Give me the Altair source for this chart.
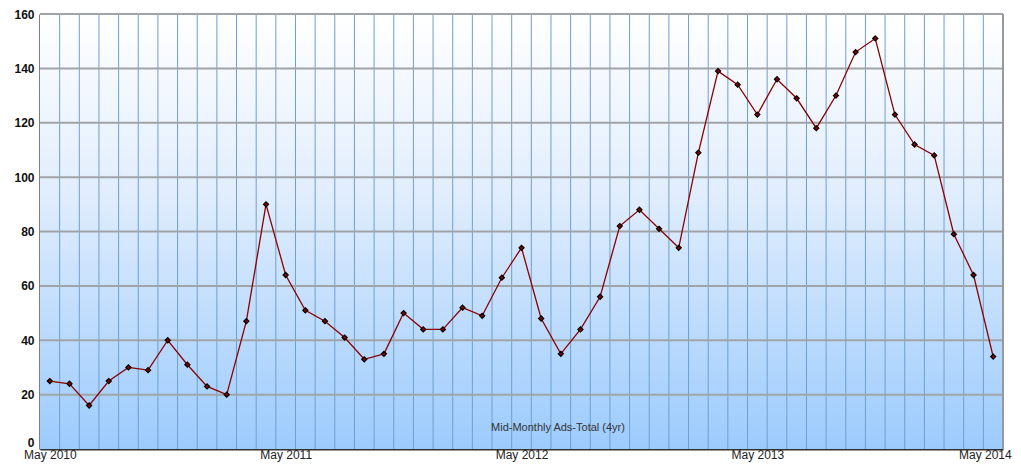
import altair as alt
import pandas as pd

# Monthly values, May 2010 .. May 2014
values = [25, 24, 16, 25, 30, 29, 40, 31, 23, 20, 47, 90, 64, 51, 47, 41,
          33, 35, 50, 44, 44, 52, 49, 63, 74, 48, 35, 44, 56, 82, 88, 81, 74,
          109, 139, 134, 123, 136, 129, 118, 130, 146, 151, 123, 112, 108, 79, 64, 34]
tick_labels = ["May 2010", "May 2011", "May 2012", "May 2013", "May 2014"]
tick_months = [0, 12, 24, 36, 48]
y_ticks = [20, 40, 60, 80, 100, 120, 140, 160]
annotation = "Mid-Monthly Ads-Total (4yr)"

n = len(values)
df = pd.DataFrame({"m": list(range(n)), "v": values})
vgrid = pd.DataFrame({"g": [i + 0.5 for i in range(n - 1)]})
hgrid = pd.DataFrame({"h": y_ticks})
bg = pd.DataFrame({"x0": [-0.5], "x1": [n - 0.5], "y0": [0], "y1": [160]})

xscale = alt.Scale(domain=[-0.5, n - 0.5], nice=False, zero=False)
yscale = alt.Scale(domain=[0, 160], nice=False)

label_arr = "[" + ",".join("'%s'" % t for t in tick_labels) + "]"
xaxis = alt.Axis(values=tick_months, labelExpr=label_arr + "[datum.value/12]",
                 grid=False, ticks=False, title=None, labelFont="Liberation Sans",
                 labelFontSize=12, labelColor="#222", labelPadding=0,
                 labelAlign={"expr": "datum.value == %d ? 'right' : 'center'" % tick_months[-1]},
                 labelOffset={"expr": "datum.value == %d ? 18 : 0" % tick_months[-1]},
                 domainColor="#333", domainWidth=2)
yaxis = alt.Axis(values=[0] + y_ticks, grid=False, ticks=False, title=None,
                 labelFont="Liberation Sans", labelFontSize=12, labelFontWeight="bold",
                 labelColor="#111", labelPadding=6, domainColor="#000", domainWidth=2,
                 labelBaseline={"expr": "datum.value == 0 ? 'bottom' : 'middle'"})

background = alt.Chart(bg).mark_rect(
    fill=alt.Gradient(gradient="linear",
                      stops=[alt.GradientStop(color="#ffffff", offset=0),
                             alt.GradientStop(color="#e2eefd", offset=0.4),
                             alt.GradientStop(color="#9ccbfd", offset=1)],
                      x1=0, x2=0, y1=0, y2=1)
).encode(
    x=alt.X("x0:Q", scale=xscale, axis=xaxis), x2="x1:Q",
    y=alt.Y("y0:Q", scale=yscale, axis=yaxis), y2="y1:Q"
)

vlines = alt.Chart(vgrid).mark_rule(color="#6f9fce", strokeWidth=1).encode(
    x=alt.X("g:Q", scale=xscale)
)
vborder = alt.Chart(pd.DataFrame({"g": [n - 0.5]})).mark_rule(color="#999", strokeWidth=2).encode(
    x=alt.X("g:Q", scale=xscale)
)
hlines = alt.Chart(hgrid).mark_rule(color="#a0a4a8", strokeWidth=2).encode(
    y=alt.Y("h:Q", scale=yscale)
)

line = alt.Chart(df).mark_line(color="#8b0000", strokeWidth=1.3).encode(
    x=alt.X("m:Q", scale=xscale), y=alt.Y("v:Q", scale=yscale)
)
points = alt.Chart(df).mark_point(shape="diamond", filled=True, fill="#8b0000",
                                  stroke="#000", strokeWidth=1.2, size=26, opacity=1).encode(
    x=alt.X("m:Q", scale=xscale), y=alt.Y("v:Q", scale=yscale)
)

label = alt.Chart(pd.DataFrame({"t": [annotation]})).mark_text(
    font="Liberation Sans", fontSize=11, color="#333", align="center", baseline="middle"
).encode(text="t:N", x=alt.value(518), y=alt.value(414))

chart = alt.layer(background, vlines, hlines, vborder, line, points, label).properties(
    width=963, height=435,
    padding={"left": 32, "top": 6, "right": 10, "bottom": 14},
    autosize=alt.AutoSizeParams(type="none"),
).configure_view(stroke=None)

chart.save("out.html", embed_options={"renderer": "svg", "actions": False})
